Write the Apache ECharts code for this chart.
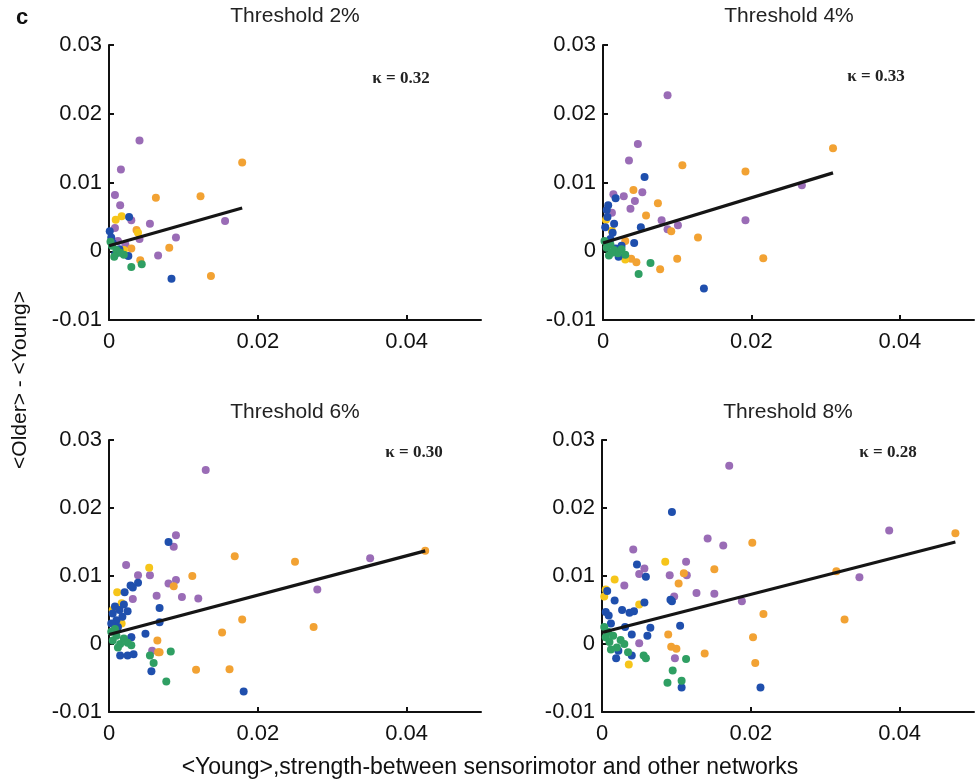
<!DOCTYPE html>
<html>
<head>
<meta charset="utf-8">
<script src="https://cdn.jsdelivr.net/npm/echarts@6/dist/echarts.min.js"></script>
<style>
html,body{margin:0;padding:0;background:#fff;}
#chart{width:976px;height:783px;}
</style>
</head>
<body>
<div id="chart"></div>
<script>
// ---------- data ----------
const panelLetter = 'c';
const panelTitles = ['Threshold 2%', 'Threshold 4%', 'Threshold 6%', 'Threshold 8%'];
const kappaLabels = ['\u03ba = 0.32', '\u03ba = 0.33', '\u03ba = 0.30', '\u03ba = 0.28'];
const xAxisTitle = '<Young>,strength-between sensorimotor and other networks';
const yAxisTitle = '<Older> - <Young>';
const xTicks = [0, 0.02, 0.04];
const yTicks = [-0.01, 0, 0.01, 0.02, 0.03];
const groupNames = ['purple', 'orange', 'yellow', 'blue', 'green'];

// Threshold 2%
const p1Purple = [[0.0041,0.0161],[0.0016,0.0119],[0.0008,0.0082],[0.0015,0.0067],[0.0030,0.0045],[0.0055,0.0040],[0.0156,0.0044],[0.0090,0.0020],[0.0041,0.0018],[0.0008,0.0034],[0.0066,-0.0006],[0.0012,0.0015],[0.0022,0.0010]];
const p1Orange = [[0.0179,0.0129],[0.0063,0.0078],[0.0123,0.0080],[0.0037,0.0031],[0.0081,0.0005],[0.0030,0.0004],[0.0042,-0.0013],[0.0137,-0.0036]];
const p1Yellow = [[0.0017,0.0051],[0.0009,0.0046],[0.0039,0.0027],[0.0020,0.0002]];
const p1Blue = [[0.0027,0.0050],[0.0001,0.0029],[0.0084,-0.0040],[0.0026,-0.0007],[0.0008,-0.0005],[0.0005,0.0012],[0.0014,0.0003],[0.0003,0.0020]];
const p1Green = [[0.0044,-0.0019],[0.0030,-0.0023],[0.0020,-0.0005],[0.0004,0.0008],[0.0010,0.0002],[0.0002,0.0014],[0.0015,-0.0002],[0.0007,-0.0008]];
const p1Fit = [[0,0.0008],[0.0179,0.0063]];

// Threshold 4%
const p2Purple = [[0.0087,0.0227],[0.0047,0.0156],[0.0035,0.0132],[0.0053,0.0086],[0.0014,0.0083],[0.0028,0.0080],[0.0043,0.0073],[0.0037,0.0062],[0.0012,0.0056],[0.0079,0.0045],[0.0192,0.0045],[0.0101,0.0038],[0.0087,0.0032],[0.0268,0.0096]];
const p2Orange = [[0.0107,0.0125],[0.0192,0.0116],[0.0041,0.0089],[0.0074,0.0070],[0.0058,0.0052],[0.0092,0.0029],[0.0128,0.0020],[0.0030,0.0015],[0.0045,-0.0016],[0.0038,-0.0011],[0.0100,-0.0011],[0.0216,-0.0010],[0.0077,-0.0026],[0.0310,0.0150]];
const p2Yellow = [[0.0004,0.0046],[0.0030,-0.0012],[0.0012,0.0030]];
const p2Blue = [[0.0056,0.0108],[0.0017,0.0077],[0.0007,0.0067],[0.0005,0.0060],[0.0015,0.0040],[0.0051,0.0035],[0.0013,0.0027],[0.0042,0.0012],[0.0017,0.0004],[0.0021,-0.0008],[0.0136,-0.0054],[0.0003,0.0035],[0.0010,0.0018],[0.0025,0.0008],[0.0006,0.0050]];
const p2Green = [[0.0064,-0.0017],[0.0048,-0.0033],[0.0005,0.0005],[0.0010,0.0010],[0.0015,0.0002],[0.0002,0.0015],[0.0020,-0.0003],[0.0008,-0.0006],[0.0025,0.0003],[0.0012,-0.0002],[0.0030,-0.0005]];
const p2Fit = [[0,0.0012],[0.0310,0.0114]];

// Threshold 6%
const p3Purple = [[0.0130,0.0256],[0.0090,0.0160],[0.0087,0.0143],[0.0023,0.0116],[0.0039,0.0101],[0.0055,0.0101],[0.0090,0.0094],[0.0080,0.0089],[0.0032,0.0066],[0.0064,0.0071],[0.0098,0.0069],[0.0120,0.0067],[0.0058,-0.0010],[0.0351,0.0126],[0.0280,0.0080],[0.0030,0.0010]];
const p3Orange = [[0.0169,0.0129],[0.0250,0.0121],[0.0112,0.0100],[0.0087,0.0085],[0.0179,0.0036],[0.0152,0.0017],[0.0065,0.0005],[0.0066,-0.0012],[0.0068,-0.0012],[0.0117,-0.0038],[0.0162,-0.0037],[0.0425,0.0137],[0.0275,0.0025]];
const p3Yellow = [[0.0054,0.0112],[0.0011,0.0076],[0.0017,0.0060],[0.0017,0.0030],[0.0005,0.0050]];
const p3Blue = [[0.0080,0.0150],[0.0039,0.0090],[0.0029,0.0086],[0.0032,0.0083],[0.0021,0.0076],[0.0068,0.0053],[0.0068,0.0032],[0.0049,0.0015],[0.0030,0.0010],[0.0057,-0.0040],[0.0181,-0.0070],[0.0015,-0.0017],[0.0025,-0.0017],[0.0033,-0.0015],[0.0008,0.0055],[0.0014,0.0050],[0.0020,0.0058],[0.0005,0.0045],[0.0010,0.0035],[0.0003,0.0030],[0.0012,0.0025],[0.0018,0.0040],[0.0025,0.0048]];
const p3Green = [[0.0083,-0.0011],[0.0055,-0.0017],[0.0060,-0.0028],[0.0077,-0.0055],[0.0005,0.0005],[0.0010,0.0012],[0.0015,0.0000],[0.0020,0.0008],[0.0025,0.0002],[0.0003,0.0018],[0.0012,-0.0005],[0.0030,-0.0002],[0.0008,0.0022]];
const p3Fit = [[0,0.0014],[0.0425,0.0137]];

// Threshold 8%
const p4Purple = [[0.0171,0.0262],[0.0142,0.0155],[0.0163,0.0145],[0.0042,0.0139],[0.0113,0.0121],[0.0057,0.0111],[0.0050,0.0103],[0.0091,0.0101],[0.0114,0.0101],[0.0030,0.0086],[0.0127,0.0075],[0.0151,0.0074],[0.0097,0.0070],[0.0188,0.0063],[0.0050,0.0001],[0.0098,-0.0021],[0.0386,0.0167],[0.0346,0.0098]];
const p4Orange = [[0.0202,0.0149],[0.0151,0.0110],[0.0110,0.0104],[0.0103,0.0089],[0.0217,0.0044],[0.0089,0.0014],[0.0203,0.0010],[0.0093,-0.0004],[0.0100,-0.0007],[0.0138,-0.0014],[0.0206,-0.0028],[0.0475,0.0163],[0.0315,0.0107],[0.0326,0.0036]];
const p4Yellow = [[0.0085,0.0121],[0.0017,0.0095],[0.0005,0.0080],[0.0050,0.0058],[0.0036,-0.0030],[0.0003,0.0070]];
const p4Blue = [[0.0094,0.0194],[0.0047,0.0117],[0.0059,0.0099],[0.0007,0.0078],[0.0017,0.0064],[0.0094,0.0063],[0.0057,0.0061],[0.0027,0.0050],[0.0037,0.0046],[0.0043,0.0048],[0.0005,0.0047],[0.0009,0.0042],[0.0105,0.0027],[0.0065,0.0024],[0.0031,0.0025],[0.0040,0.0014],[0.0061,0.0012],[0.0040,-0.0017],[0.0019,-0.0021],[0.0107,-0.0064],[0.0213,-0.0064],[0.0012,0.0030],[0.0022,-0.0010],[0.0092,0.0065]];
const p4Green = [[0.0056,-0.0017],[0.0059,-0.0021],[0.0113,-0.0022],[0.0095,-0.0039],[0.0088,-0.0057],[0.0107,-0.0054],[0.0005,0.0010],[0.0010,0.0003],[0.0015,0.0012],[0.0020,-0.0005],[0.0025,0.0006],[0.0003,0.0025],[0.0012,-0.0008],[0.0030,0.0000],[0.0008,0.0018],[0.0035,-0.0012]];
const p4Fit = [[0,0.0017],[0.0475,0.0150]];

// ---------- build ----------
const panelData = [
  [p1Purple, p1Orange, p1Yellow, p1Blue, p1Green, p1Fit],
  [p2Purple, p2Orange, p2Yellow, p2Blue, p2Green, p2Fit],
  [p3Purple, p3Orange, p3Yellow, p3Blue, p3Green, p3Fit],
  [p4Purple, p4Orange, p4Yellow, p4Blue, p4Green, p4Fit]
];
const groupColors = ['#9a6cb6', '#f2a233', '#f6c51a', '#1f4fad', '#2f9f63'];
const grids = [
  {left:109, top:45, width:372, height:275},
  {left:603, top:45, width:371, height:275},
  {left:109, top:440, width:372, height:272},
  {left:602, top:440, width:372, height:272}
];
const tickFont = 'Liberation Sans, Arial, sans-serif';
const fmt = v => String(+(+v).toFixed(3));

const xAxes = [], yAxes = [], series = [];
grids.forEach((g, i) => {
  xAxes.push({
    gridIndex:i, type:'value', min:0, max:0.05, interval:0.01,
    axisLine:{show:true, onZero:false, lineStyle:{color:'#111', width:2}},
    axisTick:{show:true, inside:true, length:5, customValues:xTicks.slice(1), lineStyle:{color:'#111', width:2}},
    axisLabel:{show:true, customValues:xTicks, formatter:fmt, margin:11, color:'#111', fontSize:22, fontFamily:tickFont},
    splitLine:{show:false}
  });
  yAxes.push({
    gridIndex:i, type:'value', min:-0.01, max:0.03, interval:0.01,
    axisLine:{show:true, onZero:false, lineStyle:{color:'#111', width:2}},
    axisTick:{show:true, inside:true, length:5, customValues:yTicks, lineStyle:{color:'#111', width:2}},
    axisLabel:{show:true, customValues:yTicks, formatter:fmt, margin:7, color:'#111', fontSize:22, fontFamily:tickFont},
    splitLine:{show:false}
  });
  const d = panelData[i];
  groupNames.forEach((name, k) => {
    series.push({
      type:'scatter', name:name, xAxisIndex:i, yAxisIndex:i,
      data:d[k], symbol:'circle', symbolSize:8,
      itemStyle:{color:groupColors[k], opacity:1},
      z:2+k, silent:true, animation:false
    });
  });
  series.push({
    type:'line', xAxisIndex:i, yAxisIndex:i, data:d[5],
    showSymbol:false, symbol:'none',
    lineStyle:{color:'#151515', width:3.2},
    z:20, silent:true, animation:false
  });
});

const titleX = [295, 789, 295, 788];
const titleY = [16, 16, 412, 412];
const kappaX = [401, 876, 414, 888];
const kappaY = [79, 77, 453, 453];
const graphics = [];
graphics.push({type:'text', x:22, y:18, style:{text:panelLetter, fill:'#111', font:'bold 22px Liberation Sans, Arial, sans-serif', align:'center', verticalAlign:'middle', textAlign:'center', textVerticalAlign:'middle'}});
panelTitles.forEach((t, i) => {
  graphics.push({type:'text', x:titleX[i], y:titleY[i], style:{text:t, fill:'#222', font:'21px Liberation Sans, Arial, sans-serif', align:'center', verticalAlign:'middle', textAlign:'center', textVerticalAlign:'middle'}});
  graphics.push({type:'text', x:kappaX[i], y:kappaY[i], style:{text:kappaLabels[i], fill:'#222', font:'bold 17px Liberation Serif, Times New Roman, serif', align:'center', verticalAlign:'middle', textAlign:'center', textVerticalAlign:'middle'}});
});
graphics.push({type:'text', x:490, y:768, style:{text:xAxisTitle, fill:'#111', font:'23px Liberation Sans, Arial, sans-serif', align:'center', verticalAlign:'middle', textAlign:'center', textVerticalAlign:'middle'}});
graphics.push({type:'text', x:20, y:380, rotation:Math.PI/2, style:{text:yAxisTitle, fill:'#111', font:'21px Liberation Sans, Arial, sans-serif', align:'center', verticalAlign:'middle', textAlign:'center', textVerticalAlign:'middle'}});

const chart = echarts.init(document.getElementById('chart'), null, {renderer:'canvas'});
chart.setOption({
  backgroundColor:'#ffffff',
  animation:false,
  grid:grids,
  xAxis:xAxes,
  yAxis:yAxes,
  series:series,
  graphic:graphics
});
</script>
</body>
</html>
